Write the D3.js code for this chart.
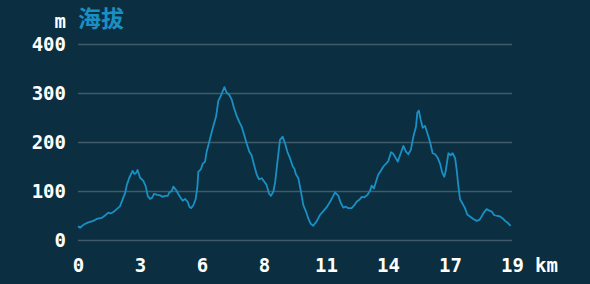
<!DOCTYPE html>
<html>
<head>
<meta charset="utf-8">
<script src="https://cdn.jsdelivr.net/npm/d3@7"></script>
<style>
  html, body { margin: 0; padding: 0; background: #0b2f40; }
  svg { display: block; }
</style>
</head>
<body>
<div id="chart"></div>
<script>
// elevation profile, distance in km and height in m
const distance = [0.00, 0.09, 0.24, 0.46, 0.68, 0.83, 1.05, 1.20, 1.35, 1.45, 1.57, 1.72, 1.87, 2.01, 2.09, 2.17, 2.28, 2.43, 2.50, 2.57,
  2.65, 2.76, 2.90, 3.01, 3.10, 3.20, 3.29, 3.38, 3.53, 3.65, 3.77, 3.87, 3.99, 4.06, 4.17, 4.24, 4.36, 4.46, 4.58, 4.66,
  4.76, 4.88, 4.95, 5.03, 5.13, 5.23, 5.31, 5.35, 5.46, 5.55, 5.65, 5.72, 5.84, 5.95, 6.05, 6.14, 6.24, 6.35, 6.43, 6.51,
  6.61, 6.73, 6.84, 6.94, 7.06, 7.17, 7.28, 7.38, 7.50, 7.62, 7.72, 7.83, 7.95, 8.05, 8.17, 8.27, 8.39, 8.49, 8.58, 8.69,
  8.77, 8.86, 8.98, 9.10, 9.21, 9.31, 9.43, 9.55, 9.62, 9.69, 9.80, 9.90, 10.02, 10.14, 10.24, 10.35, 10.46, 10.61, 10.76, 10.91,
  11.06, 11.21, 11.33, 11.43, 11.58, 11.68, 11.80, 11.92, 12.02, 12.17, 12.29, 12.39, 12.51, 12.62, 12.73, 12.87, 12.99, 13.06, 13.16, 13.25,
  13.35, 13.46, 13.58, 13.70, 13.80, 13.92, 14.02, 14.13, 14.22, 14.32, 14.47, 14.59, 14.69, 14.80, 14.91, 15.03, 15.09, 15.16, 15.24, 15.33,
  15.43, 15.53, 15.65, 15.77, 15.88, 15.98, 16.10, 16.20, 16.29, 16.36, 16.47, 16.57, 16.66, 16.77, 16.84, 16.91, 16.99, 17.09, 17.21, 17.31,
  17.43, 17.58, 17.73, 17.85, 17.95, 18.05, 18.17, 18.29, 18.40, 18.50, 18.65, 18.77, 18.89, 18.99, 19.11, 19.24];
const elevation = [28, 25, 31, 36, 39, 43, 45, 50, 56, 54, 57, 63, 69, 86, 95, 112, 127, 141, 135, 136,
  143, 127, 121, 110, 90, 84, 86, 94, 92, 91, 88, 90, 90, 97, 100, 109, 102, 94, 85, 80,
  84, 78, 68, 65, 71, 83, 109, 139, 144, 156, 160, 180, 201, 221, 238, 252, 284, 294, 303, 312,
  301, 296, 286, 269, 253, 241, 231, 216, 197, 180, 173, 153, 133, 124, 126, 120, 112, 95, 90, 99,
  119, 156, 204, 211, 197, 180, 167, 150, 146, 134, 126, 102, 71, 58, 44, 33, 29, 38, 51, 59,
  67, 78, 88, 97, 90, 76, 66, 68, 65, 65, 71, 78, 82, 88, 87, 92, 101, 111, 105, 119,
  133, 141, 150, 156, 161, 179, 176, 167, 160, 173, 192, 180, 175, 184, 210, 231, 260, 264, 245, 229,
  233, 219, 201, 177, 175, 169, 156, 137, 129, 143, 177, 173, 177, 167, 143, 112, 83, 75, 65, 52,
  48, 43, 39, 41, 48, 56, 63, 60, 58, 51, 49, 48, 44, 39, 35, 29];

const totalKm = 19.3;
const yTicks = [0, 100, 200, 300, 400];
const xTickCount = 8;

const width = 590, height = 284;
const margin = { top: 44, right: 78, bottom: 44, left: 78 };

const svg = d3.select("#chart")
  .append("svg")
  .attr("width", width)
  .attr("height", height);

const x = d3.scaleLinear()
  .domain([0, totalKm])
  .range([margin.left, width - margin.right]);

const y = d3.scaleLinear()
  .domain([0, 400])
  .range([height - margin.bottom, margin.top]);

const monoFont = "'DejaVu Sans Mono', monospace";
const labelSize = "19px";

// gridlines + y labels
const yAxis = svg.append("g")
  .attr("transform", `translate(${margin.left},0)`)
  .call(d3.axisLeft(y).tickValues(yTicks).tickSize(-(width - margin.left - margin.right)).tickPadding(12));
yAxis.select(".domain").remove();
yAxis.selectAll(".tick line")
  .attr("stroke", "#3f5b69")
  .attr("stroke-width", 1.5);
yAxis.selectAll(".tick text")
  .attr("fill", "#ffffff")
  .style("font-family", monoFont)
  .style("font-size", labelSize)
  .style("font-weight", "bold");

// x labels, evenly spaced and rounded to whole km
const xTicks = d3.range(xTickCount).map(i => i * totalKm / (xTickCount - 1));
const xAxis = svg.append("g")
  .attr("transform", `translate(0,${height - margin.bottom})`)
  .call(d3.axisBottom(x).tickValues(xTicks).tickFormat(d => Math.round(d)).tickSize(0).tickPadding(18.5));
xAxis.select(".domain").remove();
xAxis.selectAll(".tick text")
  .attr("fill", "#ffffff")
  .style("font-family", monoFont)
  .style("font-size", labelSize)
  .style("font-weight", "bold");

svg.append("text")
  .attr("x", x(totalKm) + 23)
  .attr("y", 272)
  .attr("fill", "#ffffff")
  .style("font-family", monoFont)
  .style("font-size", labelSize)
  .style("font-weight", "bold")
  .text("km");

// unit + title
svg.append("text")
  .attr("x", margin.left - 12)
  .attr("y", 28)
  .attr("text-anchor", "end")
  .attr("fill", "#ffffff")
  .style("font-family", monoFont)
  .style("font-size", labelSize)
  .style("font-weight", "bold")
  .text("m");

svg.append("text")
  .attr("x", margin.left)
  .attr("y", 27)
  .attr("fill", "#1a8fc4")
  .style("font-family", "'Noto Sans CJK SC', sans-serif")
  .style("font-size", "23px")
  .style("font-weight", "bold")
  .text("海拔");

// the profile line
const line = d3.line()
  .x((d, i) => x(distance[i]))
  .y(d => y(d));

svg.append("path")
  .datum(elevation)
  .attr("fill", "none")
  .attr("stroke", "#1a8fc4")
  .attr("stroke-width", 1.8)
  .attr("stroke-linejoin", "round")
  .attr("d", line);
</script>
</body>
</html>
